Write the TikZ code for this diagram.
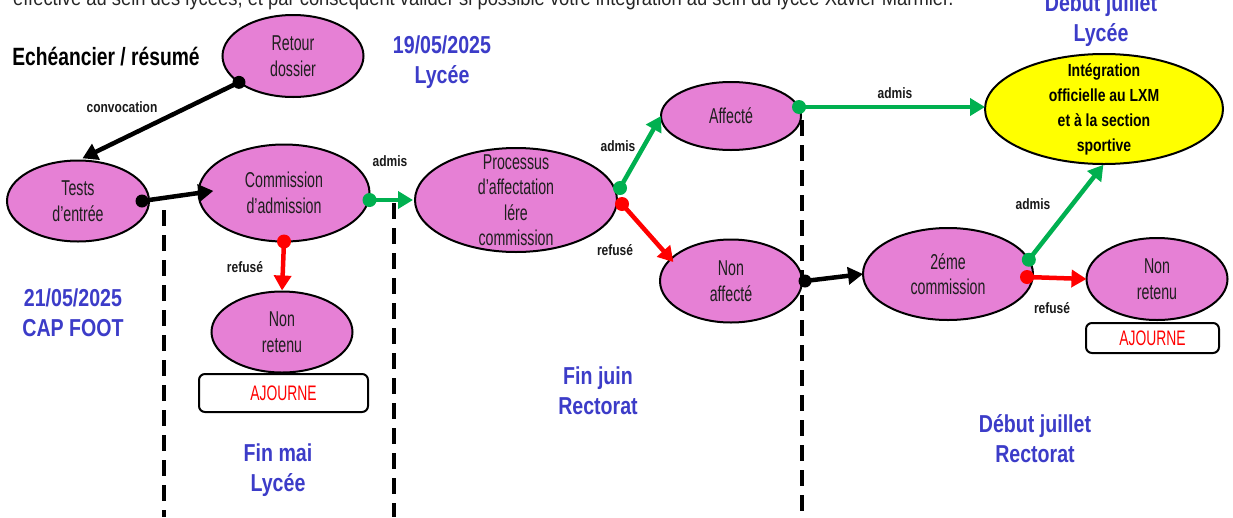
\documentclass[tikz,border=0pt]{standalone}
\usepackage{fontspec}
\usetikzlibrary{shapes.geometric,arrows.meta,calc}
\newfontfamily\rfont[FakeStretch=0.66]{Liberation Sans}
\newfontfamily\bfont[FakeStretch=0.8]{Liberation Sans}
\newfontfamily\hfont[FakeStretch=0.77]{Liberation Sans}
\newfontfamily\tfont[FakeStretch=0.875]{Liberation Sans}
\definecolor{pinkc}{RGB}{230,128,213}
\definecolor{bluec}{RGB}{60,60,200}
\definecolor{greenc}{RGB}{0,176,80}
\definecolor{redc}{RGB}{255,0,0}
\definecolor{yellowc}{RGB}{255,255,0}
\tikzset{
  ell/.style={ellipse, draw=black, line width=2pt, fill=pinkc, inner sep=0pt, outer sep=0pt},
  txt/.style={font=\rfont\fontsize{21.5}{25.5}\selectfont, align=center, text=black!88},
  btxt/.style={font=\bfont\bfseries\fontsize{17.5}{25}\selectfont, align=center, text=black},
  lbl/.style={font=\bfont\bfseries\fontsize{15}{18}\selectfont, text=black!90},
  datelbl/.style={font=\bfont\bfseries\fontsize{24.5}{30}\selectfont, text=bluec, align=center},
  ajbox/.style={draw=black, line width=2pt, rounded corners=6pt, fill=white, text=redc, font=\rfont\fontsize{21}{25}\selectfont, inner sep=0pt},
  conn/.style={line width=4.5pt, -{Triangle[length=15pt,width=17pt]}},
  sepline/.style={line width=4pt, dash pattern=on 16pt off 9pt},
}
\begin{document}
\begin{tikzpicture}[x=1pt,y=-1pt]
\useasboundingbox (0,0) rectangle (1233,517);

% top cut text
\node[anchor=base west, inner sep=0pt, font=\tfont\fontsize{21}{25}\selectfont, text=black!85] (toptext) at (13,5)
  {effective au sein des lycées, et par conséquent valider si possible votre intégration au sein du lycée Xavier Marmier.};

% title
\node[font=\hfont\bfseries\fontsize{25}{30}\selectfont] (title) at (106,57) {Echéancier / résumé};

% ellipses
\node[ell, minimum width=141pt, minimum height=82pt, label={[txt]center:{Retour\\dossier}}] (retour) at (293,56) {};
\node[ell, minimum width=142pt, minimum height=81pt, label={[txt]center:{Tests\\d’entrée}}] (tests) at (78,201) {};
\node[ell, minimum width=171pt, minimum height=97pt, label={[txt]center:{Commission\\d’admission}}] (comm) at (284,193) {};
\node[ell, minimum width=141pt, minimum height=81pt, label={[txt]center:{Non\\retenu}}] (nonret1) at (282,332) {};
\node[ell, minimum width=202pt, minimum height=104pt, label={[txt]center:{Processus\\d’affectation\\lére\\commission}}] (proc) at (516,200) {};
\node[ell, minimum width=140pt, minimum height=68pt, label={[txt]center:{Affecté}}] (affecte) at (731,116) {};
\node[ell, minimum width=142pt, minimum height=83pt, label={[txt]center:{Non\\affecté}}] (nonaff) at (731,281) {};
\node[ell, fill=yellowc, minimum width=238pt, minimum height=110pt, label={[btxt]center:{Intégration\\officielle au LXM\\et à la section\\sportive}}] (integ) at (1104,109) {};
\node[ell, minimum width=170pt, minimum height=92pt, label={[txt]center:{2éme\\commission}}] (comm2) at (948,274) {};
\node[ell, minimum width=141pt, minimum height=82pt, label={[txt]center:{Non\\retenu}}] (nonret2) at (1157,279) {};

% AJOURNE boxes
\node[ajbox, minimum width=169pt, minimum height=38pt] (aj1) at (283.5,393) {AJOURNE};
\node[ajbox, minimum width=133pt, minimum height=30pt] (aj2) at (1152.5,338) {AJOURNE};

% dashed separators
\draw[sepline] (164,210) -- (164,517);
\draw[sepline] (394,203) -- (394,517);
\draw[sepline] (802,120) -- (802,517);

% date labels
\node[datelbl] (d1) at (442,62) {19/05/2025\\Lycée};
\node[datelbl] (d2) at (73,313) {21/05/2025\\CAP FOOT};
\node[datelbl] (d3) at (278,470) {Fin mai\\Lycée};
\node[datelbl] (d4) at (598,391) {Fin juin\\Rectorat};
\node[datelbl] (d5) at (1035,439) {Début juillet\\Rectorat};
\node[datelbl] (d6) at (1101,20) {Début juillet\\Lycée};

% connector anchor points
\coordinate (pr) at (retour.206);
\coordinate (pt) at ([xshift=-7pt]tests.east);
\coordinate (pc) at ([yshift=-7pt]comm.east);
\coordinate (pcs) at (comm.south);
\coordinate (ppg) at ([yshift=12pt,xshift=3pt]proc.east);
\coordinate (ppr) at ([yshift=-4pt,xshift=5pt]proc.east);
\coordinate (pa) at ([yshift=9pt,xshift=-2pt]affecte.east);
\coordinate (pn) at ([xshift=3pt]nonaff.east);
\coordinate (pc2g) at (comm2.10);
\coordinate (pc2r) at ([yshift=-3pt,xshift=-6pt]comm2.east);

% connectors
\draw[conn, black, shorten >=5pt] (pr) -- (tests.north);
\draw[conn, black, shorten >=-15pt] (pt) -- (comm.west);
\draw[conn, greenc, shorten >=2pt] (pc) -- (pc -| proc.west);
\draw[conn, redc, shorten >=1pt] (pcs) -- (nonret1.north);
\draw[conn, greenc] (ppg) -- (affecte.west);
\draw[conn, redc, shorten >=-4pt] (ppr) -- (nonaff.160);
\draw[conn, greenc] (pa) -- (pa -| integ.west);
\draw[conn, black] (pn) -- (comm2.west);
\draw[conn, greenc, shorten >=1pt] (pc2g) -- (integ.south);
\draw[conn, redc] (pc2r) -- (nonret2.west);

% start dots
\fill[black] (pr) circle (6.5pt);
\fill[black] (pt) circle (6.5pt);
\fill[greenc] (pc) circle (7pt);
\fill[redc] (pcs) circle (7pt);
\fill[greenc] (ppg) circle (7pt);
\fill[redc] (ppr) circle (7pt);
\fill[greenc] (pa) circle (7pt);
\fill[black] (pn) circle (6.5pt);
\fill[greenc] (pc2g) circle (7pt);
\fill[redc] (pc2r) circle (7pt);

% connector labels
\node[lbl] (l1) at (122,107) {convocation};
\node[lbl] (l2) at (390,161) {admis};
\node[lbl] (l3) at (245,267) {refusé};
\node[lbl] (l4) at (618,146) {admis};
\node[lbl] (l5) at (615,250) {refusé};
\node[lbl] (l6) at (895,93) {admis};
\node[lbl] (l7) at (1033,204) {admis};
\node[lbl] (l8) at (1052,308) {refusé};
\end{tikzpicture}
\end{document}
